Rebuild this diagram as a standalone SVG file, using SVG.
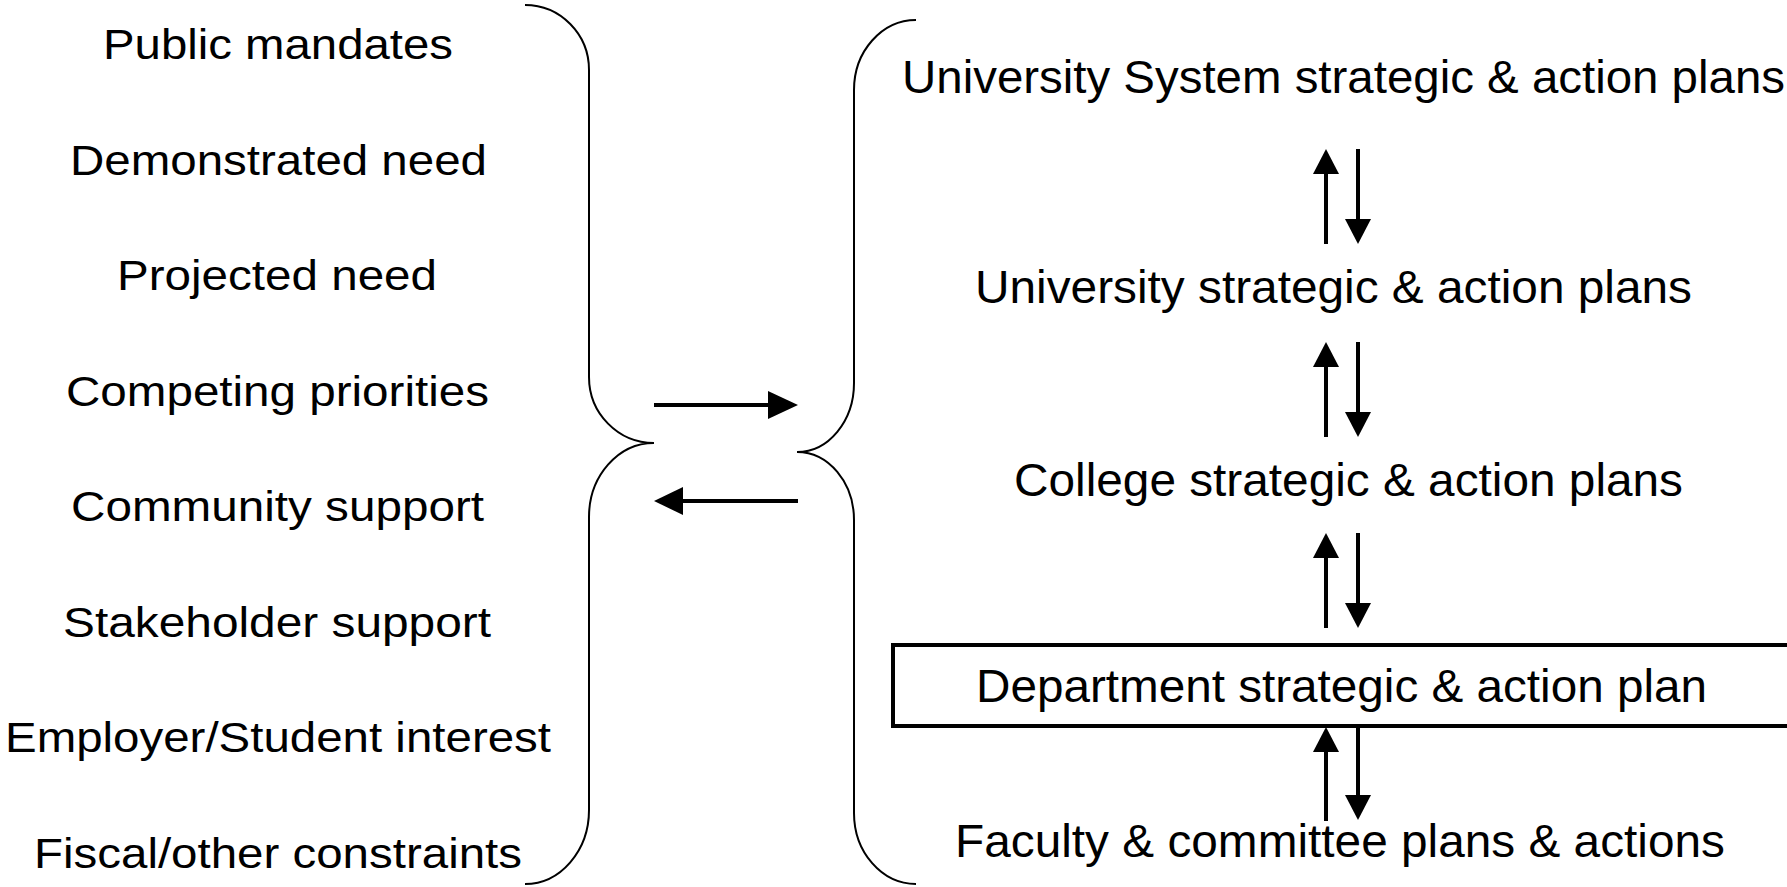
<svg xmlns="http://www.w3.org/2000/svg" width="1787" height="887" viewBox="0 0 1787 887">
<style>
text{font-family:"Liberation Sans",Arial,sans-serif;fill:#000}
.l{font-size:43px}
.r{font-size:46px}
.brace{fill:none;stroke:#000;stroke-width:2}
.shaft{stroke:#000;stroke-width:4;fill:none}
.head{fill:#000;stroke:none}
.box{fill:#fff;stroke:#000;stroke-width:4}
</style>
<rect width="1787" height="887" fill="#fff"/>
<g id="factors">
<g id="f1"><text class="l" x="103" y="59" textLength="350" lengthAdjust="spacingAndGlyphs">Public mandates</text></g>
<g id="f2"><text class="l" x="70" y="175" textLength="417" lengthAdjust="spacingAndGlyphs">Demonstrated need</text></g>
<g id="f3"><text class="l" x="117" y="290" textLength="320" lengthAdjust="spacingAndGlyphs">Projected need</text></g>
<g id="f4"><text class="l" x="66" y="406" textLength="423" lengthAdjust="spacingAndGlyphs">Competing priorities</text></g>
<g id="f5"><text class="l" x="71" y="521" textLength="413" lengthAdjust="spacingAndGlyphs">Community support</text></g>
<g id="f6"><text class="l" x="63" y="637" textLength="428" lengthAdjust="spacingAndGlyphs">Stakeholder support</text></g>
<g id="f7"><text class="l" x="5" y="752" textLength="546" lengthAdjust="spacingAndGlyphs">Employer/Student interest</text></g>
<g id="f8"><text class="l" x="34" y="868" textLength="488" lengthAdjust="spacingAndGlyphs">Fiscal/other constraints</text></g>
</g>
<g id="braces">
<path id="brace-left" class="brace" d="M525,5 A64,65 0 0 1 589,70 L589,377 A65,66 0 0 0 654,443 A65,74 0 0 0 589,517 L589,810 A64,74 0 0 1 525,884"/>
<path id="brace-right" class="brace" d="M916,20 A62,70 0 0 0 854,90 L854,383 A57,69 0 0 1 797,452 A57,68 0 0 1 854,520 L854,813 A62,71 0 0 0 916,884"/>
</g>
<g id="plans">
<g id="p1"><text class="r" x="902" y="93" textLength="883" lengthAdjust="spacingAndGlyphs">University System strategic &amp; action plans</text></g>
<g id="p2"><text class="r" x="975" y="303" textLength="717" lengthAdjust="spacingAndGlyphs">University strategic &amp; action plans</text></g>
<g id="p3"><text class="r" x="1014" y="496" textLength="669" lengthAdjust="spacingAndGlyphs">College strategic &amp; action plans</text></g>
<g id="p4"><rect class="box" x="893" y="645" width="920" height="81"/><text class="r" x="976" y="702" textLength="731" lengthAdjust="spacingAndGlyphs">Department strategic &amp; action plan</text></g>
<g id="p5"><text class="r" x="955" y="857" textLength="770" lengthAdjust="spacingAndGlyphs">Faculty &amp; committee plans &amp; actions</text></g>
</g>
<g id="connectors">
<line class="shaft" x1="654" y1="405" x2="770" y2="405"/>
<polygon class="head" points="768,391 798,405 768,419"/>
<line class="shaft" x1="798" y1="501" x2="681" y2="501"/>
<polygon class="head" points="683,487 654,501 683,515"/>
<line class="shaft" x1="1326" y1="244" x2="1326" y2="172"/>
<polygon class="head" points="1313,174 1326,149 1339,174"/>
<line class="shaft" x1="1358" y1="149" x2="1358" y2="221"/>
<polygon class="head" points="1345,219 1358,244 1371,219"/>
<line class="shaft" x1="1326" y1="437" x2="1326" y2="365"/>
<polygon class="head" points="1313,367 1326,342 1339,367"/>
<line class="shaft" x1="1358" y1="342" x2="1358" y2="414"/>
<polygon class="head" points="1345,412 1358,437 1371,412"/>
<line class="shaft" x1="1326" y1="628" x2="1326" y2="556"/>
<polygon class="head" points="1313,558 1326,533 1339,558"/>
<line class="shaft" x1="1358" y1="533" x2="1358" y2="605"/>
<polygon class="head" points="1345,603 1358,628 1371,603"/>
<line class="shaft" x1="1326" y1="821" x2="1326" y2="750"/>
<polygon class="head" points="1313,752 1326,727 1339,752"/>
<line class="shaft" x1="1358" y1="727" x2="1358" y2="797"/>
<polygon class="head" points="1345,795 1358,820 1371,795"/>
</g>
</svg>
